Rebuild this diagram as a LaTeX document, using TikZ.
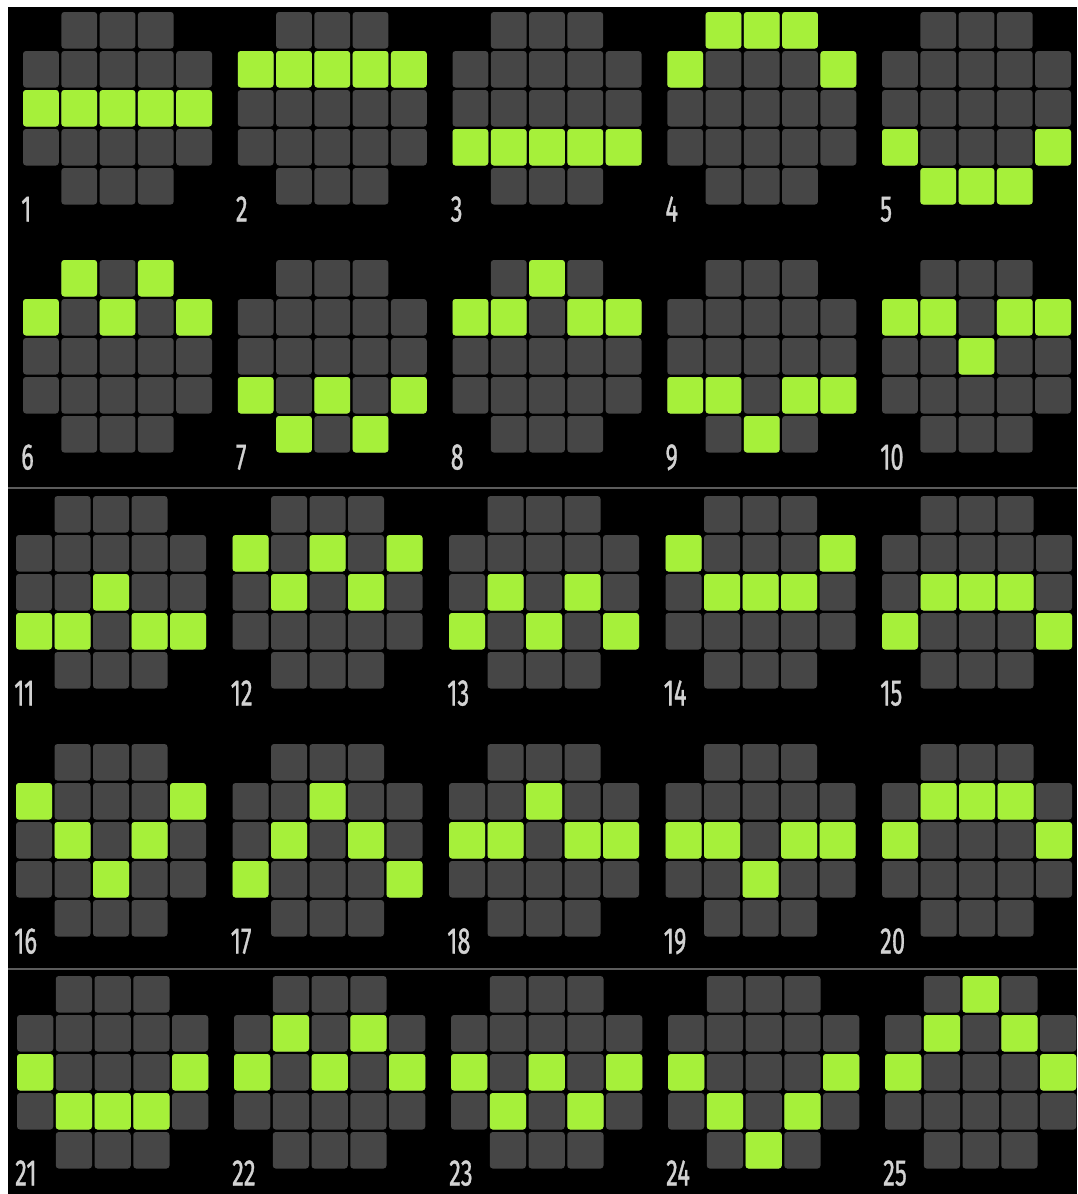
\documentclass[tikz,border=0pt]{standalone}
\usepackage{fontspec}
\setmainfont{Fira Sans}
\usetikzlibrary{positioning}
\definecolor{padgray}{HTML}{464646}
\definecolor{padgreen}{HTML}{A6F03A}
\definecolor{numgray}{HTML}{D2D2D2}
\definecolor{rulegray}{HTML}{5C5C5C}
\tikzset{
  pad/.style={fill=padgray, rounded corners=3pt},
  hit/.style={fill=padgreen, rounded corners=3pt},
  num/.style={anchor=base west, inner sep=0pt, text=numgray,
    font=\fontsize{37}{37}\selectfont},
  sep/.style={draw=rulegray, line width=2pt}
}
\newcommand{\allpads}{0/1,0/2,0/3,1/0,1/1,1/2,1/3,1/4,2/0,2/1,2/2,2/3,2/4,%
  3/0,3/1,3/2,3/3,3/4,4/1,4/2,4/3}
% #1 left, #2 top, #3 pitch, #4 number, #5 lit pads (row/col)
\newcommand{\payline}[5]{
  \foreach \i/\j in \allpads
    \fill[pad] ({#1+\j*#3},{#2+\i*39}) rectangle ++({#3-2.5},36.5);
  \foreach \i/\j in {#5}
    \fill[hit] ({#1+\j*#3},{#2+\i*39}) rectangle ++({#3-2.5},36.5);
  \node[num] (n#4) at ({#1-2},{#2+209.5})
    {\scalebox{0.64}[1]{\addfontfeature{FakeBold=1.2}#4}};
}

\begin{document}
\begin{tikzpicture}[x=1pt,y=-1pt]
  \useasboundingbox (0,0) rectangle (1077,1194);
  \fill[white] (0,0) rectangle (1077,1194);
  \fill[black] (8,7) rectangle (1077,1194);
  \draw[sep] (8,487.5) -- (1077,487.5);
  \draw[sep] (8,968.5) -- (1077,968.5);

  % first screen
  \payline{23}{12}{38.3}{1}{2/0,2/1,2/2,2/3,2/4}
  \payline{237.75}{12}{38.3}{2}{1/0,1/1,1/2,1/3,1/4}
  \payline{452.5}{12}{38.3}{3}{3/0,3/1,3/2,3/3,3/4}
  \payline{667.25}{12}{38.3}{4}{0/1,0/2,0/3,1/0,1/4}
  \payline{882}{12}{38.3}{5}{3/0,3/4,4/1,4/2,4/3}
  \payline{23}{260}{38.3}{6}{0/1,0/3,1/0,1/2,1/4}
  \payline{237.75}{260}{38.3}{7}{3/0,3/2,3/4,4/1,4/3}
  \payline{452.5}{260}{38.3}{8}{0/2,1/0,1/1,1/3,1/4}
  \payline{667.25}{260}{38.3}{9}{3/0,3/1,3/3,3/4,4/2}
  \payline{882}{260}{38.3}{10}{1/0,1/1,1/3,1/4,2/2}

  % second screen
  \payline{16}{496}{38.5}{11}{2/2,3/0,3/1,3/3,3/4}
  \payline{232.5}{496}{38.5}{12}{1/0,1/2,1/4,2/1,2/3}
  \payline{449}{496}{38.5}{13}{2/1,2/3,3/0,3/2,3/4}
  \payline{665.5}{496}{38.5}{14}{1/0,1/4,2/1,2/2,2/3}
  \payline{882}{496}{38.5}{15}{2/1,2/2,2/3,3/0,3/4}
  \payline{16}{744}{38.5}{16}{1/0,1/4,2/1,2/3,3/2}
  \payline{232.5}{744}{38.5}{17}{1/2,2/1,2/3,3/0,3/4}
  \payline{449}{744}{38.5}{18}{1/2,2/0,2/1,2/3,2/4}
  \payline{665.5}{744}{38.5}{19}{2/0,2/1,2/3,2/4,3/2}
  \payline{882}{744}{38.5}{20}{1/1,1/2,1/3,2/0,2/4}

  % third screen
  \payline{17}{976}{38.75}{21}{2/0,2/4,3/1,3/2,3/3}
  \payline{234}{976}{38.75}{22}{1/1,1/3,2/0,2/2,2/4}
  \payline{451}{976}{38.75}{23}{2/0,2/2,2/4,3/1,3/3}
  \payline{668}{976}{38.75}{24}{2/0,2/4,3/1,3/3,4/2}
  \payline{885}{976}{38.75}{25}{0/2,1/1,1/3,2/0,2/4}
\end{tikzpicture}
\end{document}
